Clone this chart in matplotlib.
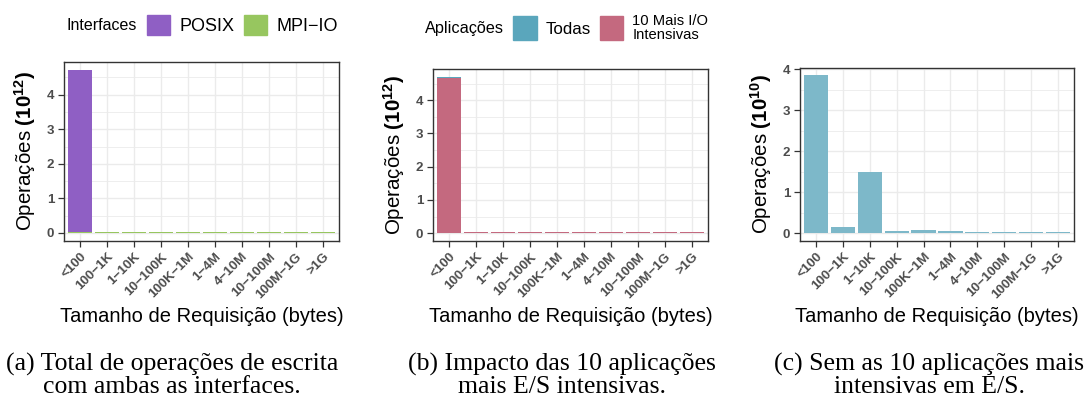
import matplotlib
matplotlib.use("Agg")
import matplotlib.pyplot as plt
import matplotlib.transforms as mtransforms
from matplotlib.patches import Patch
from matplotlib.ticker import MultipleLocator
import numpy as np

plt.rcParams["font.family"] = ["Liberation Sans", "DejaVu Sans"]
plt.rcParams["mathtext.fontset"] = "custom"
plt.rcParams["mathtext.rm"] = "Liberation Sans"
plt.rcParams["mathtext.bf"] = "Liberation Sans:bold"

CATEGORIES = ["<100", "100−1K", "1−10K", "10−100K", "100K−1M",
              "1−4M", "4−10M", "10−100M", "100M−1G", ">1G"]

# (a) write operations by interface, units of 10^12
MPIIO = [0.02, 0.02, 0.02, 0.02, 0.02, 0.02, 0.02, 0.02, 0.02, 0.02]
POSIX = [4.70, 0.002, 0.003, 0.0004, 0.0007, 0.0004, 0.0002, 0.0002, 0.0002, 0.0002]

# (b) top 10 I/O-intensive apps vs the rest, units of 10^12
TOP10 = [4.665, 0.025, 0.025, 0.025, 0.025, 0.025, 0.025, 0.025, 0.025, 0.025]
TODAS = [0.0385, 0.0016, 0.003, 0.0004, 0.00065, 0.0004, 0.00015, 0.00015, 0.00015, 0.00015]

# (c) without the top 10, units of 10^10
REST = [3.85, 0.16, 1.50, 0.04, 0.065, 0.04, 0.015, 0.015, 0.015, 0.015]

PURPLE = "#8F5FC4"
GREEN = "#97C65F"
BLUE = "#5AA6BC"
PINK = "#C4697F"
LIGHT_BLUE = "#7DB8C9"

GRID = "#EBEBEB"
DARK = "#333333"
TICK_TXT = "#4D4D4D"

W, H = 1084, 403


def px_rect(l, r, t, b):
    return [l / W, 1 - b / H, (r - l) / W, (b - t) / H]


def style_axes(fig, ax, top, exp):
    x = np.arange(1, len(CATEGORIES) + 1)
    ax.set_xlim(0.4, len(CATEGORIES) + 0.6)
    ax.set_ylim(-0.05 * top, 1.05 * top)
    ax.set_xticks(x)
    ax.set_xticklabels(CATEGORIES, rotation=45, ha="right", va="top",
                       rotation_mode="anchor", fontsize=9.6, fontweight="bold",
                       color=TICK_TXT)
    # ggplot-like placement: label end sits a little right of the tick
    shift = mtransforms.ScaledTranslation(6 / 100, -2 / 100, fig.dpi_scale_trans)
    for lab in ax.get_xticklabels():
        lab.set_transform(lab.get_transform() + shift)
    ax.yaxis.set_major_locator(MultipleLocator(1))
    ax.yaxis.set_minor_locator(MultipleLocator(0.5))
    for lab in ax.get_yticklabels():
        lab.set_fontweight("bold")
        lab.set_color(TICK_TXT)
        lab.set_fontsize(9.6)
    ax.tick_params(axis="both", which="major", length=4, width=0.9, color=DARK, pad=3)
    ax.tick_params(axis="y", which="minor", length=0)
    ax.grid(True, which="major", color=GRID, linewidth=1.0)
    ax.grid(True, which="minor", axis="y", color=GRID, linewidth=0.6)
    ax.set_axisbelow(True)
    for s in ax.spines.values():
        s.set_color(DARK)
        s.set_linewidth(1.0)
    ax.set_ylabel("Operações $\\mathbf{(10^{%d})}$" % exp, fontsize=14.8)
    ax.yaxis.set_label_coords(-0.095, 0.5)


fig = plt.figure(figsize=(W / 100, H / 100), dpi=100)
x = np.arange(1, len(CATEGORIES) + 1)

# (a)
ax1 = fig.add_axes(px_rect(64, 339, 61.7, 241))
ax1.bar(x, MPIIO, width=0.9, color=GREEN)
ax1.bar(x, POSIX, width=0.9, bottom=MPIIO, color=PURPLE)
style_axes(fig, ax1, max(np.add(MPIIO, POSIX)), 12)

# (b)
ax2 = fig.add_axes(px_rect(433, 708, 69, 241))
ax2.bar(x, TOP10, width=0.9, color=PINK)
ax2.bar(x, TODAS, width=0.9, bottom=TOP10, color=BLUE)
style_axes(fig, ax2, max(np.add(TOP10, TODAS)), 12)

# (c)
ax3 = fig.add_axes(px_rect(800, 1074, 67.5, 241))
ax3.bar(x, REST, width=0.9, color=LIGHT_BLUE)
style_axes(fig, ax3, max(REST), 10)

# x axis titles, centred under each panel
for ax in (ax1, ax2, ax3):
    bb = ax.get_position()
    fig.text((bb.x0 + bb.x1) / 2, 1 - 316 / H, "Tamanho de Requisição (bytes)",
             ha="center", va="center", fontsize=14.5)

# legends
fig.text(67 / W, 1 - 25 / H, "Interfaces", ha="left", va="center", fontsize=11.5)
leg1 = fig.legend(handles=[Patch(color=PURPLE, label="POSIX"),
                           Patch(color=GREEN, label="MPI−IO")],
                  loc="center left", bbox_to_anchor=(147 / W, 1 - 25 / H),
                  ncol=2, frameon=False, fontsize=13.0, borderpad=0,
                  borderaxespad=0, handlelength=1.3, handleheight=1.3,
                  handletextpad=0.5, columnspacing=0.5)

fig.text(425 / W, 1 - 28 / H, "Aplicações", ha="left", va="center", fontsize=11.7)
leg2 = fig.legend(handles=[Patch(color=BLUE, label="Todas"),
                           Patch(color=PINK, label="10 Mais I/O\nIntensivas")],
                  loc="center left", bbox_to_anchor=(513 / W, 1 - 28 / H),
                  ncol=2, frameon=False, fontsize=12.2, borderpad=0,
                  borderaxespad=0, handlelength=1.4, handleheight=1.87,
                  handletextpad=0.52, columnspacing=0.52)
leg2.get_texts()[1].set_fontsize(10.6)
leg2.get_texts()[1].set_linespacing(1.0)

# captions
caps = [
    (172, "(a) Total de operações de escrita\ncom ambas as interfaces."),
    (562, "(b) Impacto das 10 aplicações\nmais E/S intensivas."),
    (929, "(c) Sem as 10 aplicações mais\nintensivas em E/S."),
]
for xc, txt in caps:
    fig.text(xc / W, 1 - 375 / H, txt, ha="center", va="center",
             fontsize=18.5, family="Liberation Serif", linespacing=1.0)

fig.savefig("out.png", dpi=100)
